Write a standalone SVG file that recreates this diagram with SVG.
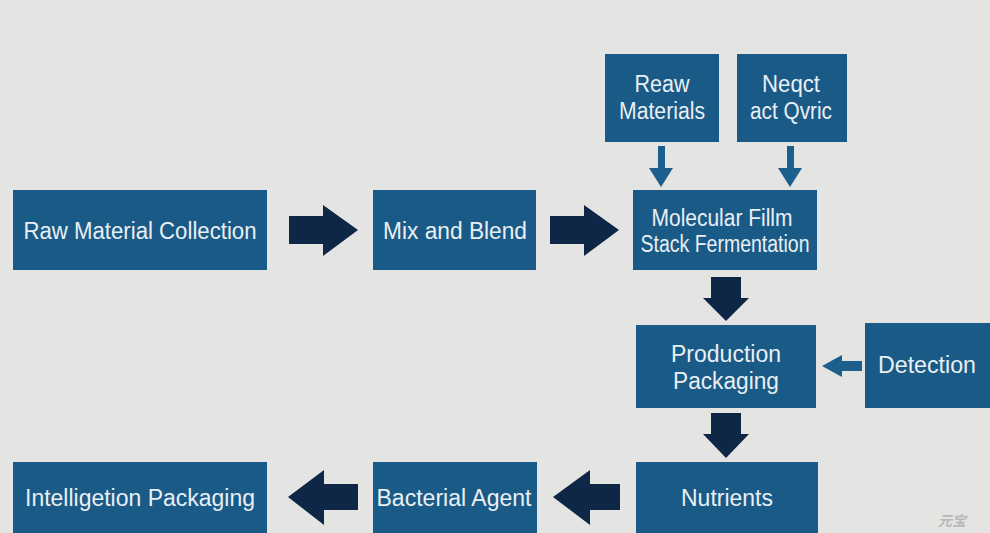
<svg xmlns="http://www.w3.org/2000/svg" width="990" height="533" viewBox="0 0 990 533">
<style>
.box{fill:#1a5a86;}
.t{font-family:"Liberation Sans",Arial,sans-serif;font-size:23px;fill:#e9eff4;text-anchor:middle;lengthAdjust:spacingAndGlyphs;}
.big{fill:#0e2747;}
.small{fill:#1d5f8c;}
.wm{font-family:"Noto Sans CJK SC",sans-serif;font-size:14px;fill:#b8b8b8;font-style:italic;font-weight:bold;}
</style>
<rect width="990" height="533" fill="#e4e4e3"/>
<g id="connectors">
<polygon class="big" points="289,216 323,216 323,205 358,230 323,256 323,244 289,244"/>
<polygon class="big" points="550,216 584,216 584,205 619,230 584,256 584,244 550,244"/>
<polygon class="big" points="711,277 741,277 741,298 749,298 726,321 703,298 711,298"/>
<polygon class="big" points="711,413 741,413 741,434 749,434 726,458 703,434 711,434"/>
<polygon class="big" points="620,484 590,484 590,470 553,497 590,525 590,510 620,510"/>
<polygon class="big" points="358,484 324,484 324,470 288,497 324,525 324,510 358,510"/>
<polygon class="small" points="658,146 665,146 665,168 673,168 661,187 649,168 658,168"/>
<polygon class="small" points="787,146 794,146 794,168 802,168 790,187 778,168 787,168"/>
<polygon class="small" points="862,361 842,361 842,355 822,366 842,377 842,371 862,371"/>
</g>
<g id="n1"><rect class="box" x="13" y="190" width="254" height="80"/><text class="t" x="140" y="239" textLength="233" lengthAdjust="spacingAndGlyphs">Raw Material Collection</text></g>
<g id="n2"><rect class="box" x="373" y="190" width="163" height="80"/><text class="t" x="455" y="239" textLength="144" lengthAdjust="spacingAndGlyphs">Mix and Blend</text></g>
<g id="n3"><rect class="box" x="633" y="190" width="184" height="80"/><text class="t" x="722" y="226" textLength="141" lengthAdjust="spacingAndGlyphs">Molecular Fillm</text><text class="t" x="725" y="252" textLength="169" lengthAdjust="spacingAndGlyphs">Stack Fermentation</text></g>
<g id="n4"><rect class="box" x="605" y="54" width="114" height="88"/><text class="t" x="662" y="92" textLength="55" lengthAdjust="spacingAndGlyphs">Reaw</text><text class="t" x="662" y="119" textLength="86" lengthAdjust="spacingAndGlyphs">Materials</text></g>
<g id="n5"><rect class="box" x="737" y="54" width="110" height="88"/><text class="t" x="791" y="92" textLength="58" lengthAdjust="spacingAndGlyphs">Neqct</text><text class="t" x="791" y="119" textLength="82" lengthAdjust="spacingAndGlyphs">act Qvric</text></g>
<g id="n6"><rect class="box" x="636" y="325" width="180" height="83"/><text class="t" x="726" y="362" textLength="110" lengthAdjust="spacingAndGlyphs">Production</text><text class="t" x="726" y="389" textLength="106" lengthAdjust="spacingAndGlyphs">Packaging</text></g>
<g id="n7"><rect class="box" x="865" y="323" width="125" height="85"/><text class="t" x="927" y="373" textLength="98" lengthAdjust="spacingAndGlyphs">Detection</text></g>
<g id="n8"><rect class="box" x="636" y="462" width="182" height="71"/><text class="t" x="727" y="506" textLength="92" lengthAdjust="spacingAndGlyphs">Nutrients</text></g>
<g id="n9"><rect class="box" x="373" y="462" width="164" height="71"/><text class="t" x="454" y="506" textLength="155" lengthAdjust="spacingAndGlyphs">Bacterial Agent</text></g>
<g id="n10"><rect class="box" x="13" y="462" width="254" height="71"/><text class="t" x="140" y="506" textLength="230" lengthAdjust="spacingAndGlyphs">Intelligetion Packaging</text></g>
<text class="wm" x="938" y="526">元宝</text>
</svg>
